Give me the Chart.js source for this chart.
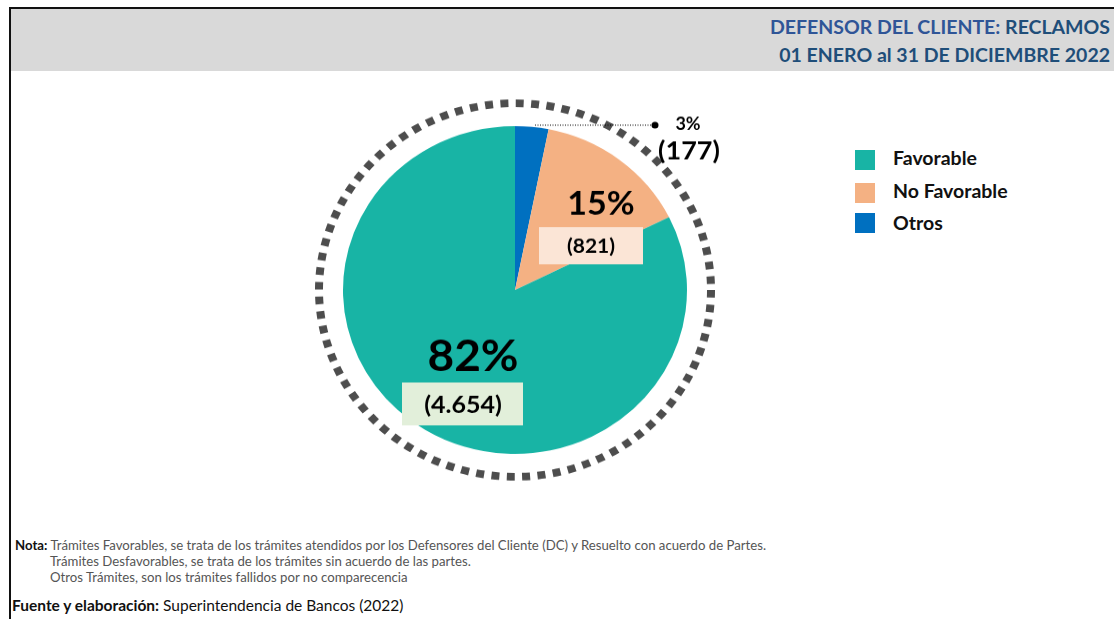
<!DOCTYPE html>
<html>
<head>
<meta charset="utf-8">
<script src="https://cdn.jsdelivr.net/npm/chart.js"></script>
<style>
    body { margin: 0; width: 1114px; height: 619px; background: #fff; font-family: Lato, "Open Sans", sans-serif; position: relative; overflow: hidden; }
    #marco { position: absolute; left: 9px; top: 7px; width: 1120px; height: 640px; border-left: 2px solid #111; border-top: 2px solid #111; }
    #cabecera { position: absolute; left: 11px; top: 9px; width: 1103px; height: 62px; background: #d9d9d9; }
    #cabecera div { position: absolute; right: 4px; font-weight: bold; font-size: 19.5px; color: #1f4e79; }
    #chartBox { position: absolute; left: 305px; top: 80px; width: 420px; height: 420px; transform: scaleY(0.953); transform-origin: 50% 50%; }
    #leyenda { position: absolute; left: 855px; top: 148px; }
    .item { position: absolute; left: 0; white-space: nowrap; font-weight: bold; font-size: 19.5px; color: #111; }
    .item span.cuadro { position: absolute; left: 0; width: 20px; height: 20px; }
    .item span.txt { position: absolute; left: 38px; top: -2px; }
    #nota { position: absolute; left: 15px; top: 537px; font-size: 13.2px; color: #555; line-height: 16px; }
    #nota b { color: #111; }
    #fuente { position: absolute; left: 12px; top: 596px; font-size: 15.5px; color: #111; }
</style>
</head>
<body>
<div id="marco"></div>
<div id="cabecera">
    <div style="top:6px"><span style="color:#2f5597">DEFENSOR DEL CLIENTE:</span> RECLAMOS</div>
    <div style="top:34px">01 ENERO al 31 DE DICIEMBRE 2022</div>
</div>
<div id="chartBox"><canvas id="tortaChart"></canvas></div>
<div id="leyenda"></div>
<div id="nota">
    <b>Nota:</b> Trámites Favorables, se trata de los trámites atendidos por los Defensores del Cliente (DC) y Resuelto con acuerdo de Partes.<br>
    <span style="padding-left:35px">Trámites Desfavorables, se trata de los trámites sin acuerdo de las partes.</span><br>
    <span style="padding-left:35px">Otros Trámites, son los trámites fallidos por no comparecencia</span>
</div>
<div id="fuente"><b>Fuente y elaboración:</b> Superintendencia de Bancos (2022)</div>

<script>
// Datos (orden del gráfico, en sentido horario desde arriba)
const categorias = ["Otros", "No Favorable", "Favorable"];
const cantidades = [177, 821, 4654];
const porcentajes = ["3%", "15%", "82%"];
const etiquetasCantidad = ["(177)", "(821)", "(4.654)"];
const colores = ["#0070c0", "#f4b183", "#18b4a5"];

// Leyenda: Favorable, No Favorable, Otros
const leyenda = document.getElementById("leyenda");
const posY = [0, 33, 65];
[2, 1, 0].forEach((i, k) => {
    const html = `<div class="item" style="top:${posY[k]}px">
        <span class="cuadro" style="background:${colores[i]};top:${k === 2 ? 0 : 2}px"></span>
        <span class="txt">${categorias[i]}</span></div>`;
    leyenda.insertAdjacentHTML("beforeend", html);
});

// Anillo punteado y etiquetas (el lienzo está comprimido en vertical con CSS)
const extras = {
    id: "extras",
    afterDraw(chart) {
        const ctx = chart.ctx;
        const arc = chart.getDatasetMeta(0).data[0];
        const cx = arc.x, cy = arc.y, r = arc.outerRadius;

        ctx.save();
        ctx.beginPath();
        ctx.arc(cx, cy, r + 24, 0, Math.PI * 2);
        ctx.strokeStyle = "#4d4d4d";
        ctx.lineWidth = 8;
        ctx.setLineDash([8, 7.4]);
        ctx.stroke();
        ctx.setLineDash([]);

        const caja = (x, y, w, h, fondo) => { ctx.fillStyle = fondo; ctx.fillRect(x, y, w, h); };
        ctx.textAlign = "center";
        ctx.textBaseline = "middle";
        ctx.fillStyle = "#000";

        // Favorable
        ctx.font = "bold 46px Lato, sans-serif";
        ctx.fillText(porcentajes[2], cx - 42, cy + 70);
        caja(cx - 113, cy + 97, 121, 45, "#e2efda");
        ctx.fillStyle = "#000";
        ctx.font = "bold 25px Lato, sans-serif";
        ctx.fillText(etiquetasCantidad[2], cx - 52, cy + 121);

        // No Favorable
        ctx.font = "bold 34px Lato, sans-serif";
        ctx.fillText(porcentajes[1], cx + 86, cy - 90);
        caja(cx + 24, cy - 66, 104, 39, "#fbe5d6");
        ctx.fillStyle = "#000";
        ctx.font = "bold 21px Lato, sans-serif";
        ctx.fillText(etiquetasCantidad[1], cx + 76, cy - 46);

        // Otros con línea guía
        ctx.beginPath();
        ctx.moveTo(cx + 20, cy - 173);
        ctx.lineTo(cx + 140, cy - 173);
        ctx.lineWidth = 1;
        ctx.setLineDash([1, 1.5]);
        ctx.strokeStyle = "#000";
        ctx.stroke();
        ctx.setLineDash([]);
        ctx.beginPath();
        ctx.arc(cx + 140, cy - 173, 3.5, 0, Math.PI * 2);
        ctx.fill();
        ctx.font = "bold 18px Lato, sans-serif";
        ctx.fillText(porcentajes[0], cx + 173, cy - 174);
        ctx.font = "bold 27px Lato, sans-serif";
        ctx.fillText(etiquetasCantidad[0], cx + 174, cy - 146);
        ctx.restore();
    }
};

new Chart(document.getElementById("tortaChart"), {
    type: "pie",
    data: {
        labels: categorias,
        datasets: [{
            data: cantidades,
            backgroundColor: colores,
            borderWidth: 0
        }]
    },
    options: {
        responsive: true,
        maintainAspectRatio: false,
        animation: false,
        layout: { padding: 38 },
        plugins: {
            legend: { display: false },
            tooltip: { enabled: false }
        }
    },
    plugins: [extras]
});
</script>
</body>
</html>
